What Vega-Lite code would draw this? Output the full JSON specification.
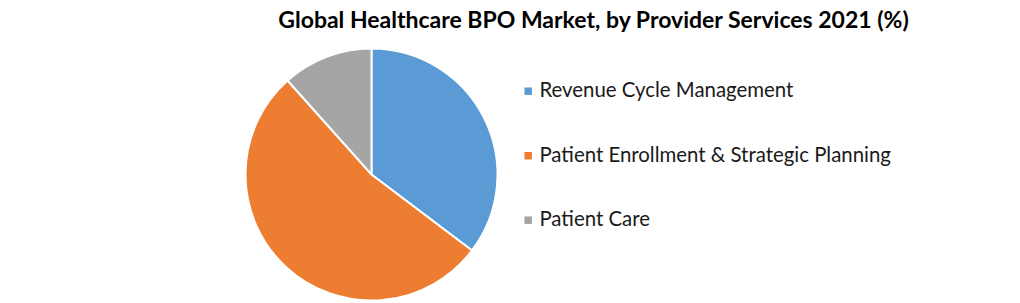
{
  "$schema": "https://vega.github.io/schema/vega-lite/v6.json",
  "autosize": {"type": "none"},
  "padding": {"left": 245, "top": 48, "right": 522, "bottom": 2},
  "width": 253,
  "height": 253,
  "background": "white",
  "title": {
    "text": "Global Healthcare BPO Market, by Provider Services 2021 (%)",
    "font": "Lato",
    "fontSize": 23,
    "fontWeight": "bold",
    "color": "#000000",
    "anchor": "middle",
    "dx": 222,
    "offset": 12
  },
  "data": {
    "values": [
      {"segment": "Revenue Cycle Management", "share": 35.3, "rank": 1},
      {"segment": "Patient Enrollment & Strategic Planning", "share": 53.1, "rank": 2},
      {"segment": "\u00a0Patient Care", "share": 11.6, "rank": 3}
    ]
  },
  "mark": {"type": "arc", "outerRadius": 126, "stroke": "white", "strokeWidth": 2},
  "encoding": {
    "theta": {"field": "share", "type": "quantitative", "stack": true},
    "order": {"field": "rank", "type": "quantitative"},
    "color": {
      "field": "segment",
      "type": "nominal",
      "scale": {
        "domain": ["Revenue Cycle Management", "Patient Enrollment & Strategic Planning", "\u00a0Patient Care"],
        "range": ["#5B9BD5", "#ED7D31", "#A5A5A5"]
      },
      "legend": {
        "title": null,
        "orient": "none",
        "legendX": 273,
        "legendY": 33,
        "padding": 0,
        "symbolType": "square",
        "symbolSize": 56,
        "symbolStrokeWidth": 0,
        "labelFont": "Lato",
        "labelFontSize": 20.4,
        "labelColor": "#1a1a1a",
        "labelOffset": 1,
        "labelLimit": 450,
        "rowPadding": 43.5
      }
    }
  },
  "config": {"view": {"stroke": null}}
}
